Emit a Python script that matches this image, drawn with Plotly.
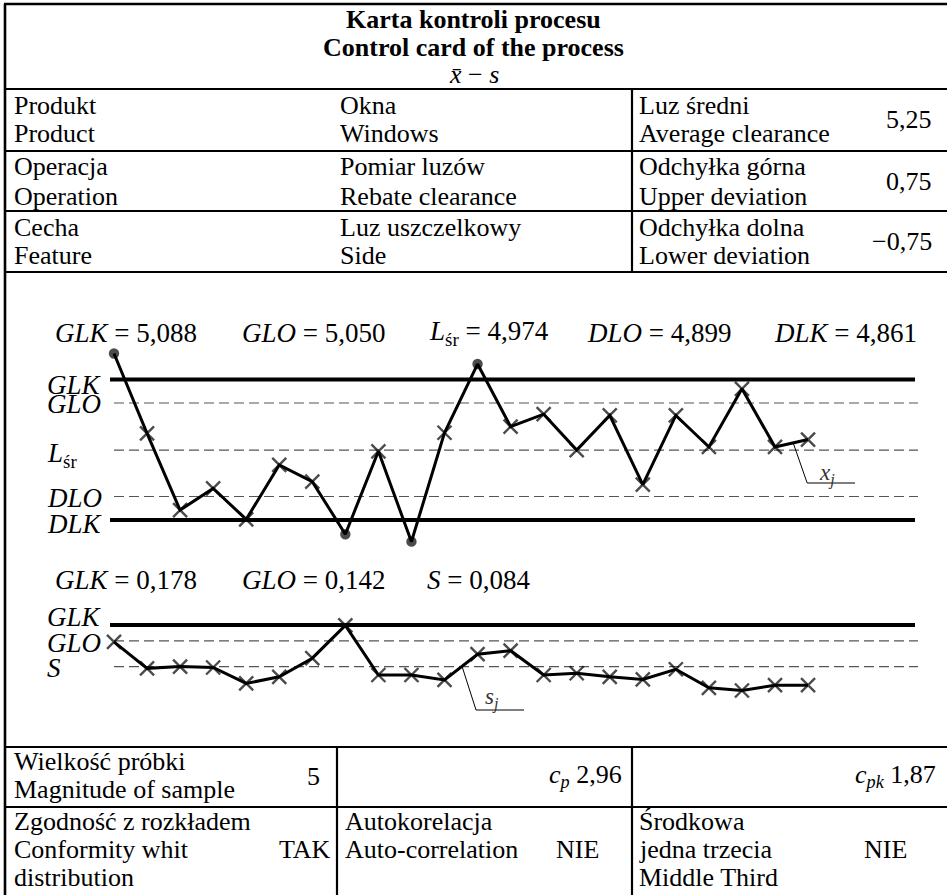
import plotly.graph_objects as go

W, H = 947, 895
FONT = "Liberation Serif, DejaVu Serif, Noto Serif, Times New Roman, serif"

# ---- data -------------------------------------------------------------
samples = list(range(1, 23))
xbar = [5.130, 5.001, 4.877, 4.912, 4.862, 4.950, 4.923, 4.838, 4.972, 4.826, 5.002,
        5.113, 5.012, 5.032, 4.974, 5.030, 4.918, 5.030, 4.979, 5.073, 4.979, 4.991]
sdev = [0.140, 0.080, 0.084, 0.082, 0.046, 0.061, 0.103, 0.177, 0.065, 0.065, 0.054,
        0.112, 0.120, 0.065, 0.069, 0.061, 0.055, 0.078, 0.036, 0.030, 0.042, 0.042]

xbar_names = ["GLK", "GLO", "L_śr", "DLO", "DLK"]
xbar_levels = [5.088, 5.050, 4.974, 4.899, 4.861]
s_names = ["GLK", "GLO", "S"]
s_levels = [0.178, 0.142, 0.084]

title_lines = ["Karta kontroli procesu", "Control card of the process"]
head_col1 = [("Produkt", "Product"), ("Operacja", "Operation"), ("Cecha", "Feature")]
head_col2 = [("Okna", "Windows"), ("Pomiar luzów", "Rebate clearance"),
             ("Luz uszczelkowy", "Side")]
head_col3 = [("Luz średni", "Average clearance"), ("Odchyłka górna", "Upper deviation"),
             ("Odchyłka dolna", "Lower deviation")]
head_vals = ["5,25", "0,75", "−0,75"]

sample_size = "5"
cp_value = "2,96"
cpk_value = "1,87"
check_labels = [("Zgodność z rozkładem", "Conformity whit", "distribution"),
                ("Autokorelacja", "Auto-correlation", ""),
                ("Środkowa", "jedna trzecia", "Middle Third")]
check_answers = ["TAK", "NIE", "NIE"]

# ---- geometry (pixels) --------------------------------------------------
X0_PX, DX_PX = 114, 33.05            # first sample position, sample spacing
UP_TOP_PX, UP_BOT_PX = 379.5, 520.0  # GLK and DLK lines of the x-bar chart
LO_TOP_PX, LO_MID_PX = 625.0, 666.6  # GLK and S lines of the s chart
LINE_X0_PX, LINE_X1_PX = 110, 915
TXT = 26                             # body text size
MATH = 27                            # chart caption size


def px_x(px):
    return px / W


def px_y(py):
    return 1 - py / H


def sample_from_px(px):
    return 1 + (px - X0_PX) / DX_PX


def sample_to_px(i):
    return X0_PX + (i - 1) * DX_PX


k_up = (UP_BOT_PX - UP_TOP_PX) / (xbar_levels[0] - xbar_levels[-1])
k_lo = (LO_MID_PX - LO_TOP_PX) / (s_levels[0] - s_levels[-1])


def up_to_px(v):
    return UP_TOP_PX + (xbar_levels[0] - v) * k_up


def lo_to_px(v):
    return LO_TOP_PX + (s_levels[0] - v) * k_lo


x_range = [sample_from_px(0), sample_from_px(W)]
y_range = [xbar_levels[0] - (H - UP_TOP_PX) / k_up, xbar_levels[0] + UP_TOP_PX / k_up]
y2_range = [s_levels[0] - (H - LO_TOP_PX) / k_lo, s_levels[0] + LO_TOP_PX / k_lo]

fig = go.Figure()

# ---- control limit lines ----------------------------------------------
lx = [sample_from_px(LINE_X0_PX), sample_from_px(LINE_X1_PX)]
lx_dash = [sample_from_px(LINE_X0_PX + 4), sample_from_px(LINE_X1_PX + 3)]


def limit_line(level, solid, yaxis):
    if solid:
        line = dict(color="black", width=4)
        xs = lx
    else:
        line = dict(color="#555555", width=1.2, dash="10px,5px")
        xs = lx_dash
    fig.add_trace(go.Scatter(x=xs, y=[level, level], mode="lines", line=line,
                             yaxis=yaxis, hoverinfo="skip", showlegend=False))


for name, lvl in zip(xbar_names, xbar_levels):
    limit_line(lvl, name in ("GLK", "DLK"), "y")
for name, lvl in zip(s_names, s_levels):
    limit_line(lvl, name == "GLK", "y2")

# ---- sample series ------------------------------------------------------
up_lim, lo_lim = xbar_levels[0], xbar_levels[-1]
x_symbols = ["circle" if (v > up_lim or v < lo_lim) else "x-thin" for v in xbar]
x_sizes = [8 if s == "circle" else 14 for s in x_symbols]
s_symbols = ["circle" if v > s_levels[0] else "x-thin" for v in sdev]
s_sizes = [8 if s == "circle" else 14 for s in s_symbols]

for ys, syms, sizes, axis in ((xbar, x_symbols, x_sizes, "y"),
                              (sdev, s_symbols, s_sizes, "y2")):
    fig.add_trace(go.Scatter(
        x=samples, y=ys, mode="lines+markers", yaxis=axis,
        line=dict(color="black", width=3),
        marker=dict(symbol=syms, size=sizes, color="black",
                    line=dict(color="black", width=2.4)),
        showlegend=False))

# ---- table rules --------------------------------------------------------
shapes = []


def hline(py, x0=5, x1=W, w=2.2):
    shapes.append(dict(type="line", xref="paper", yref="paper",
                       x0=px_x(x0), x1=px_x(x1), y0=px_y(py), y1=px_y(py),
                       line=dict(color="black", width=w)))


def vline(px, y0, y1, w=2.2):
    shapes.append(dict(type="line", xref="paper", yref="paper",
                       x0=px_x(px), x1=px_x(px), y0=px_y(y0), y1=px_y(y1),
                       line=dict(color="black", width=w)))


hline(4, x0=4, w=2.6)
vline(5, 4, H, w=2.6)
for py in (89, 151, 211, 272, 747, 807):
    hline(py)
vline(632, 89, 272)
vline(337, 747, H)
vline(632, 747, H)


# leader lines for x_j and s_j
def leader(i_a, t, series, to_px, elbow_dx, elbow_py, end_px):
    xa = sample_to_px(i_a + t)
    ya = to_px(series[i_a - 1] + t * (series[i_a] - series[i_a - 1]))
    path = (f"M {px_x(xa)},{px_y(ya)} L {px_x(xa + elbow_dx)},{px_y(elbow_py)} "
            f"L {px_x(end_px)},{px_y(elbow_py)}")
    shapes.append(dict(type="path", xref="paper", yref="paper", path=path,
                       line=dict(color="black", width=1)))
    return xa + elbow_dx


xj_elbow = leader(21, 0.55, xbar, up_to_px, 14, 483, 855)
sj_elbow = leader(11, 0.53, sdev, lo_to_px, 14, 710, 524)

# ---- text ---------------------------------------------------------------
ann = []


def note(text, x, y, xanchor="left", size=TXT, color="black"):
    ann.append(dict(text=text, x=px_x(x), y=px_y(y), xref="paper", yref="paper",
                    xanchor=xanchor, yanchor="middle", showarrow=False,
                    font=dict(family=FONT, size=size, color=color)))


def num(v, digits=3):
    s = f"{v:.{digits}f}".replace(".", ",")
    return s.replace("-", "−")


def math_name(n):
    if n == "L_śr":
        return "<i>L</i><sub>śr</sub>"
    return f"<i>{n}</i>"


# header
note(f"<b>{title_lines[0]}</b>", 474, 19, "center")
note(f"<b>{title_lines[1]}</b>", 474, 47, "center")
note("<i>x̄</i> − <i>s</i>", 474, 74, "center")

row_tops = [89, 151, 211]
for r, top in enumerate(row_tops):
    note(head_col1[r][0], 12, top + 16)
    note(head_col1[r][1], 12, top + 45)
    note(head_col2[r][0], 338, top + 16)
    note(head_col2[r][1], 338, top + 45)
    note(head_col3[r][0], 637, top + 16)
    note(head_col3[r][1], 637, top + 45)
    note(head_vals[r], 934, top + 30, "right")

# x-bar chart captions
up_caption_x = [53, 240, 427, 585, 772]
for n, v, x in zip(xbar_names, xbar_levels, up_caption_x):
    note(f"{math_name(n)} = {num(v)}", x, 333, size=MATH)
up_label_dy = [6, 1, 5, 2, 4]
for n, v, dy in zip(xbar_names, xbar_levels, up_label_dy):
    note(math_name(n), 45, up_to_px(v) + dy, size=MATH)
note("<i>x</i><sub><i>j</i></sub>", xj_elbow + 10, 474, size=23, color="#333333")

# s chart captions
lo_caption_x = [53, 240, 425]
for n, v, x in zip(s_names, s_levels, lo_caption_x):
    note(f"{math_name(n)} = {num(v)}", x, 580, size=MATH)
lo_label_dy = [-8, 2, 1]
for n, v, dy in zip(s_names, s_levels, lo_label_dy):
    note(math_name(n), 45, lo_to_px(v) + dy, size=MATH)
note("<i>s</i><sub><i>j</i></sub>", sj_elbow + 7, 698, size=23, color="#333333")

# footer table
note("Wielkość próbki", 12, 761)
note("Magnitude of sample", 12, 789)
note(sample_size, 313, 776, "center")
note(f"<i>c</i><sub><i>p</i></sub> {cp_value}", 624, 776, "right")
note(f"<i>c</i><sub><i>pk</i></sub> {cpk_value}", 938, 776, "right")

col_x = [12, 343, 637]
for c, lines in enumerate(check_labels):
    for k, t in enumerate(lines):
        if t:
            note(t, col_x[c], 821 + 28 * k)
note(check_answers[0], 333, 849, "right")
note(check_answers[1], 577, 849, "center")
note(check_answers[2], 885, 849, "center")

fig.update_layout(
    width=W, height=H,
    margin=dict(l=0, r=0, t=0, b=0),
    paper_bgcolor="white", plot_bgcolor="white",
    font=dict(family=FONT),
    xaxis=dict(range=x_range, domain=[0, 1], visible=False, fixedrange=True),
    yaxis=dict(range=y_range, domain=[0, 1], visible=False, fixedrange=True),
    yaxis2=dict(range=y2_range, domain=[0, 1], overlaying="y", anchor="x",
                visible=False, fixedrange=True),
    shapes=shapes, annotations=ann, showlegend=False,
)

fig.write_html("out.html")
